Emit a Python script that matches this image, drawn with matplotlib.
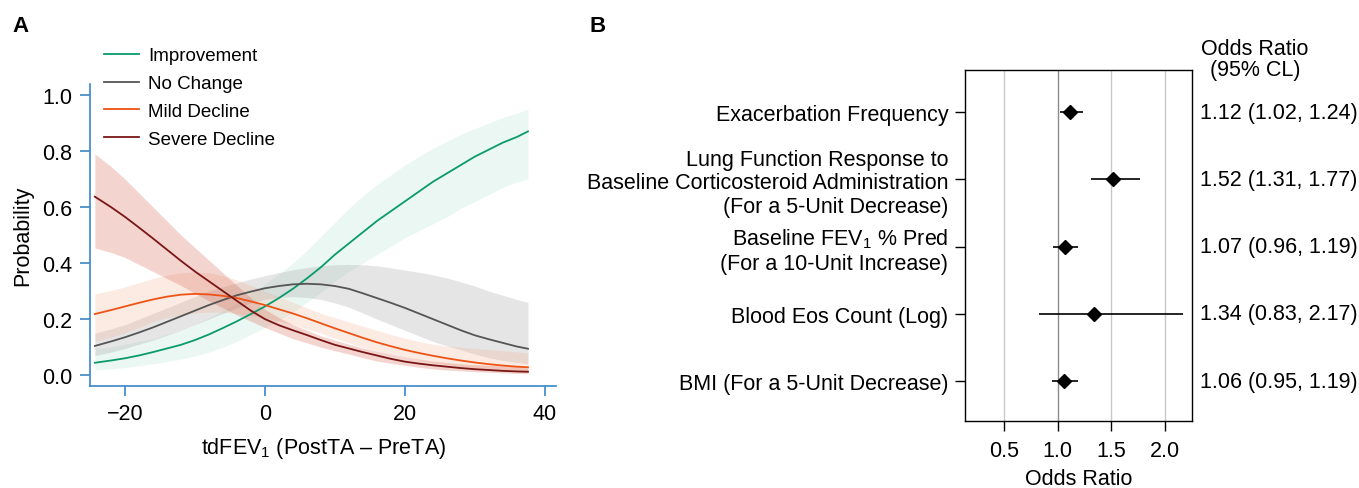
import numpy as np
import matplotlib
matplotlib.use("Agg")
import matplotlib.pyplot as plt

plt.rcParams['font.family'] = ['Liberation Sans', 'DejaVu Sans']
plt.rcParams['mathtext.fontset'] = 'custom'
plt.rcParams['mathtext.rm'] = 'Liberation Sans'
plt.rcParams['mathtext.it'] = 'Liberation Sans'

# ---- panel A data ----
td_fev1 = [-24.3, -22, -20, -18, -16, -14, -12, -10, -8, -6, -4, -2, 0, 2, 4, 6,
           8, 10, 12, 14, 16, 18, 20, 22, 24, 26, 28, 30, 32, 34, 36, 37.6]

improvement = [.044, .052, .060, .070, .082, .095, .108, .125, .145, .168, .192, .218, .245, .275, .308, .345,
               .385, .43, .47, .51, .55, .585, .62, .655, .69, .72, .75, .78, .805, .83, .85, .87]
improvement_lo = [.018, .022, .027, .033, .04, .048, .057, .068, .082, .10, .12, .145, .17, .195, .225, .26,
                  .295, .335, .37, .40, .43, .46, .49, .515, .54, .565, .595, .62, .645, .67, .69, .70]
improvement_hi = [.096, .10, .11, .12, .13, .145, .16, .18, .205, .23, .26, .29, .325, .36, .40, .445,
                  .495, .545, .595, .64, .68, .715, .75, .78, .81, .835, .86, .88, .90, .92, .935, .95]

no_change = [.104, .12, .135, .152, .17, .19, .21, .23, .25, .268, .285, .298, .31, .318, .324, .326,
             .324, .318, .308, .292, .275, .258, .24, .22, .20, .18, .16, .142, .128, .115, .102, .094]
no_change_lo = [.07, .082, .095, .11, .125, .142, .16, .18, .20, .22, .24, .257, .27, .277, .28, .277,
                .27, .258, .242, .222, .20, .18, .16, .14, .12, .105, .09, .075, .062, .052, .045, .04]
no_change_hi = [.15, .165, .18, .20, .22, .24, .26, .28, .30, .315, .33, .343, .355, .366, .376, .384,
                .39, .394, .395, .394, .39, .383, .375, .367, .358, .347, .333, .318, .30, .285, .27, .26]

mild = [.218, .232, .245, .258, .27, .28, .287, .29, .288, .283, .275, .263, .25, .235, .22, .203,
        .185, .167, .15, .133, .117, .103, .09, .079, .069, .06, .052, .045, .039, .034, .03, .028]
mild_lo = [.12, .135, .15, .17, .19, .205, .215, .222, .225, .224, .22, .213, .205, .193, .18, .165,
           .15, .132, .115, .10, .085, .075, .065, .055, .045, .038, .03, .025, .02, .016, .012, .01]
mild_hi = [.29, .302, .315, .33, .345, .357, .365, .368, .365, .355, .34, .32, .30, .28, .26, .24,
           .22, .205, .19, .175, .16, .145, .132, .12, .11, .104, .099, .095, .091, .087, .083, .08]

severe = [.637, .60, .565, .527, .488, .448, .408, .37, .335, .30, .265, .23, .20, .178, .16, .143,
          .125, .108, .095, .082, .07, .058, .048, .041, .035, .03, .025, .021, .018, .015, .013, .012]
severe_lo = [.454, .438, .42, .395, .37, .345, .32, .292, .265, .24, .215, .192, .17, .15, .13, .115,
             .10, .087, .075, .062, .05, .042, .035, .028, .022, .018, .015, .012, .01, .008, .006, .005]
severe_hi = [.79, .745, .70, .65, .60, .55, .50, .455, .41, .365, .32, .275, .235, .205, .18, .16,
             .14, .125, .11, .097, .085, .075, .065, .057, .05, .045, .04, .037, .035, .033, .031, .03]

# ---- panel B data ----
predictors = ['Exacerbation Frequency',
              'Lung Function Response to\nBaseline Corticosteroid Administration\n(For a 5-Unit Decrease)',
              'Baseline FEV$_1$ % Pred\n(For a 10-Unit Increase)',
              'Blood Eos Count (Log)',
              'BMI (For a 5-Unit Decrease)']
odds = [1.12, 1.52, 1.07, 1.34, 1.06]
ci_low = [1.02, 1.31, 0.96, 0.83, 0.95]
ci_high = [1.24, 1.77, 1.19, 2.17, 1.19]
or_ticks = [0.5, 1.0, 1.5, 2.0]

fig = plt.figure(figsize=(13.59, 4.89), dpi=100)

# ================= panel A =================
ax = fig.add_axes([0.0665, 0.2086, 0.3426, 0.6168])
blue = '#3a86c8'
series = [
    ('Improvement', improvement, improvement_lo, improvement_hi, '#0a9a6c', '#0a9a6c', 0.08),
    ('No Change', no_change, no_change_lo, no_change_hi, '#555555', '#999999', 0.25),
    ('Mild Decline', mild, mild_lo, mild_hi, '#ee5315', '#f4a582', 0.22),
    ('Severe Decline', severe, severe_lo, severe_hi, '#7a1616', '#d6604d', 0.27),
]
for name, y, lo, hi, lc, fc, a in series:
    ax.fill_between(td_fev1, lo, hi, color=fc, alpha=a, lw=0)
for name, y, lo, hi, lc, fc, a in series:
    ax.plot(td_fev1, y, color=lc, lw=1.3, label=name)

ax.set_xlim(-24.94, 41.6)
ax.set_ylim(-0.039, 1.038)
ax.set_xticks([-20, 0, 20, 40])
ax.set_yticks([0.0, 0.2, 0.4, 0.6, 0.8, 1.0])
ax.set_yticklabels(['0.0', '0.2', '0.4', '0.6', '0.8', '1.0'])
for s in ['top', 'right']:
    ax.spines[s].set_visible(False)
for s in ['left', 'bottom']:
    ax.spines[s].set_color(blue)
    ax.spines[s].set_linewidth(1.2)
ax.tick_params(axis='both', colors=blue, labelcolor='black', length=7, width=1.2,
               labelsize=15.5)
ax.tick_params(axis='y', pad=6)
ax.tick_params(axis='x', pad=5)
ax.set_xlabel('tdFEV$_1$ (PostTA \u2013 PreTA)', fontsize=15.5, labelpad=8)
ax.set_ylabel('Probability', fontsize=15.5, labelpad=6)
leg = ax.legend(loc='upper left', bbox_to_anchor=(0.0, 1.17), frameon=False,
                fontsize=13.5, handlelength=1.85, labelspacing=0.57, handletextpad=0.5,
                borderaxespad=0.35)

fig.text(0.009, 0.935, 'A', fontsize=16, fontweight='bold')
fig.text(0.434, 0.935, 'B', fontsize=16, fontweight='bold')

# ================= panel B =================
bx = fig.add_axes([0.7101, 0.1376, 0.1670, 0.7178])
rows = np.arange(1, len(predictors) + 1)
for t in or_ticks:
    bx.axvline(t, color='#8c8c8c' if t == 1.0 else '#c8c8c8', lw=1.0, zorder=0)
bx.hlines(rows, ci_low, ci_high, color='black', lw=1.2)
bx.plot(odds, rows, linestyle='none', marker='D', color='black', markersize=7)
for r, o, l, h in zip(rows, odds, ci_low, ci_high):
    bx.text(1.035, r, f'{o:.2f} ({l:.2f}, {h:.2f})', transform=bx.get_yaxis_transform(),
            va='center', ha='left', fontsize=15.5)
bx.text(1.277, 1.03, 'Odds Ratio\n(95% CL)', transform=bx.transAxes, ha='center', va='center',
        fontsize=15.5, linespacing=1.0)

bx.set_xlim(0.136, 2.255)
bx.set_ylim(5.59, 0.371)
bx.set_xticks(or_ticks)
bx.set_xticklabels([f'{t:.1f}' for t in or_ticks])
bx.set_yticks(rows)
bx.set_yticklabels(predictors)
bx.tick_params(axis='x', direction='out', length=7, width=1.0, pad=7)
bx.tick_params(axis='y', length=7, width=1.0, pad=5)
for lbl in bx.get_xticklabels() + bx.get_yticklabels():
    lbl.set_fontsize(15.5)
for lbl in bx.get_yticklabels():
    lbl.set_multialignment('right')
    lbl.set_linespacing(1.15)
bx.set_xlabel('Odds Ratio', fontsize=15.5, labelpad=5)
for s in bx.spines.values():
    s.set_linewidth(1.0)

fig.savefig('out.png', dpi=100)
